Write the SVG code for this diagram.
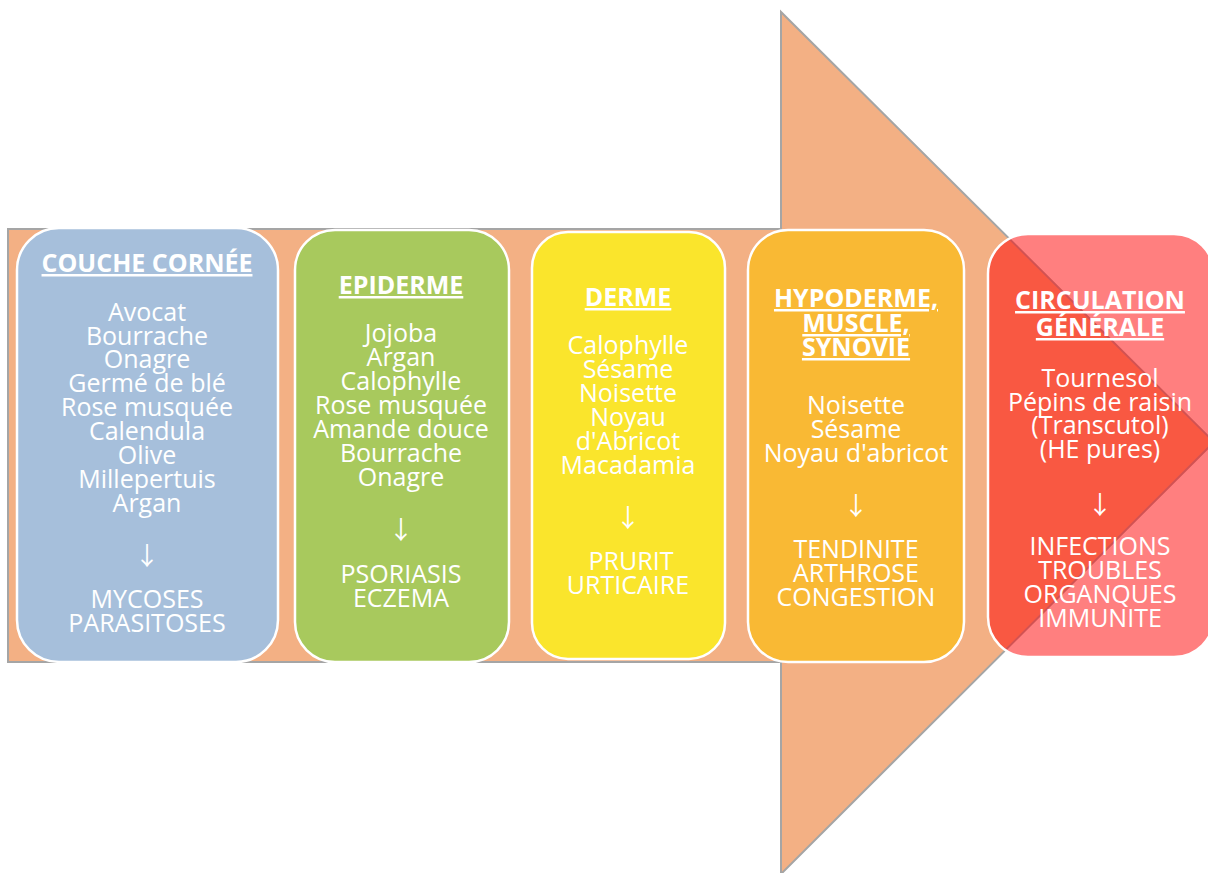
<svg xmlns="http://www.w3.org/2000/svg" width="1208" height="873" viewBox="0 0 1208 873">
  <style>
    .card { stroke: #ffffff; stroke-width: 2.5; }
    .t { font-family: "Open Sans", Lato, "Liberation Sans", sans-serif; fill: #ffffff; text-anchor: middle; font-size: 25px; }
    .h { font-weight: bold; font-size: 25px; text-decoration: underline; }
    .arr { font-family: "Noto Sans CJK SC", "DejaVu Sans", sans-serif; font-size: 25px; fill: #ffffff; text-anchor: middle; }
  </style>

  <!-- big background arrow -->
  <g id="background-arrow">
    <polygon points="8,229 781,229 781,12 1214,442 781,874 781,662 8,662" fill="#F3B084" stroke="#A5A5A5" stroke-width="2"/>
  </g>

  <g id="connectors"></g>

  <!-- layer 1 -->
  <g id="couche-cornee">
    <rect class="card" x="17" y="228" width="261" height="434" rx="42" fill="#A6BFDB"/>
    <text class="t h" x="147" y="272">COUCHE CORNÉE</text>
    <text class="t" x="147" y="321">Avocat</text>
    <text class="t" x="147" y="345">Bourrache</text>
    <text class="t" x="147" y="368">Onagre</text>
    <text class="t" x="147" y="392">Germé de blé</text>
    <text class="t" x="147" y="416">Rose musquée</text>
    <text class="t" x="147" y="440">Calendula</text>
    <text class="t" x="147" y="464">Olive</text>
    <text class="t" x="147" y="488">Millepertuis</text>
    <text class="t" x="147" y="512">Argan</text>
    <text class="arr" x="147" y="565">↓</text>
    <text class="t" x="147" y="608">MYCOSES</text>
    <text class="t" x="147" y="632">PARASITOSES</text>
  </g>

  <!-- layer 2 -->
  <g id="epiderme">
    <rect class="card" x="295" y="230" width="214" height="432" rx="40" fill="#A8C95D"/>
    <text class="t h" x="401" y="294">EPIDERME</text>
    <text class="t" x="401" y="342">Jojoba</text>
    <text class="t" x="401" y="366">Argan</text>
    <text class="t" x="401" y="390">Calophylle</text>
    <text class="t" x="401" y="414">Rose musquée</text>
    <text class="t" x="401" y="438">Amande douce</text>
    <text class="t" x="401" y="462">Bourrache</text>
    <text class="t" x="401" y="486">Onagre</text>
    <text class="arr" x="401" y="539">↓</text>
    <text class="t" x="401" y="583">PSORIASIS</text>
    <text class="t" x="401" y="607">ECZEMA</text>
  </g>

  <!-- layer 3 -->
  <g id="derme">
    <rect class="card" x="532" y="232" width="193" height="427" rx="36" fill="#FAE52C"/>
    <text class="t h" x="628" y="306">DERME</text>
    <text class="t" x="628" y="354">Calophylle</text>
    <text class="t" x="628" y="378">Sésame</text>
    <text class="t" x="628" y="402">Noisette</text>
    <text class="t" x="628" y="426">Noyau</text>
    <text class="t" x="628" y="450">d'Abricot</text>
    <text class="t" x="628" y="474">Macadamia</text>
    <text class="arr" x="628" y="527">↓</text>
    <text class="t" x="631" y="570">PRURIT</text>
    <text class="t" x="628" y="594">URTICAIRE</text>
  </g>

  <!-- layer 4 -->
  <g id="hypoderme">
    <rect class="card" x="748" y="230" width="216" height="432" rx="40" fill="#F9B934"/>
    <text class="t h" x="856" y="307">HYPODERME,</text>
    <text class="t h" x="856" y="332">MUSCLE,</text>
    <text class="t h" x="856" y="356">SYNOVIE</text>
    <text class="t" x="856" y="414">Noisette</text>
    <text class="t" x="856" y="438">Sésame</text>
    <text class="t" x="856" y="462">Noyau d'abricot</text>
    <text class="arr" x="856" y="515">↓</text>
    <text class="t" x="856" y="558">TENDINITE</text>
    <text class="t" x="856" y="582">ARTHROSE</text>
    <text class="t" x="856" y="606">CONGESTION</text>
  </g>

  <!-- layer 5: translucent card over the arrow tip -->
  <g id="circulation">
    <rect class="card" x="988" y="234" width="226" height="423" rx="40" fill="#FF0000" fill-opacity="0.5"/>
    <text class="t h" x="1100" y="309">CIRCULATION</text>
    <text class="t h" x="1100" y="336">GÉNÉRALE</text>
    <text class="t" x="1100" y="387">Tournesol</text>
    <text class="t" x="1100" y="411">Pépins de raisin</text>
    <text class="t" x="1100" y="434">(Transcutol)</text>
    <text class="t" x="1100" y="458">(HE pures)</text>
    <text class="arr" x="1100" y="514">↓</text>
    <text class="t" x="1100" y="555">INFECTIONS</text>
    <text class="t" x="1100" y="579">TROUBLES</text>
    <text class="t" x="1100" y="603">ORGANQUES</text>
    <text class="t" x="1100" y="627">IMMUNITE</text>
  </g>
</svg>
